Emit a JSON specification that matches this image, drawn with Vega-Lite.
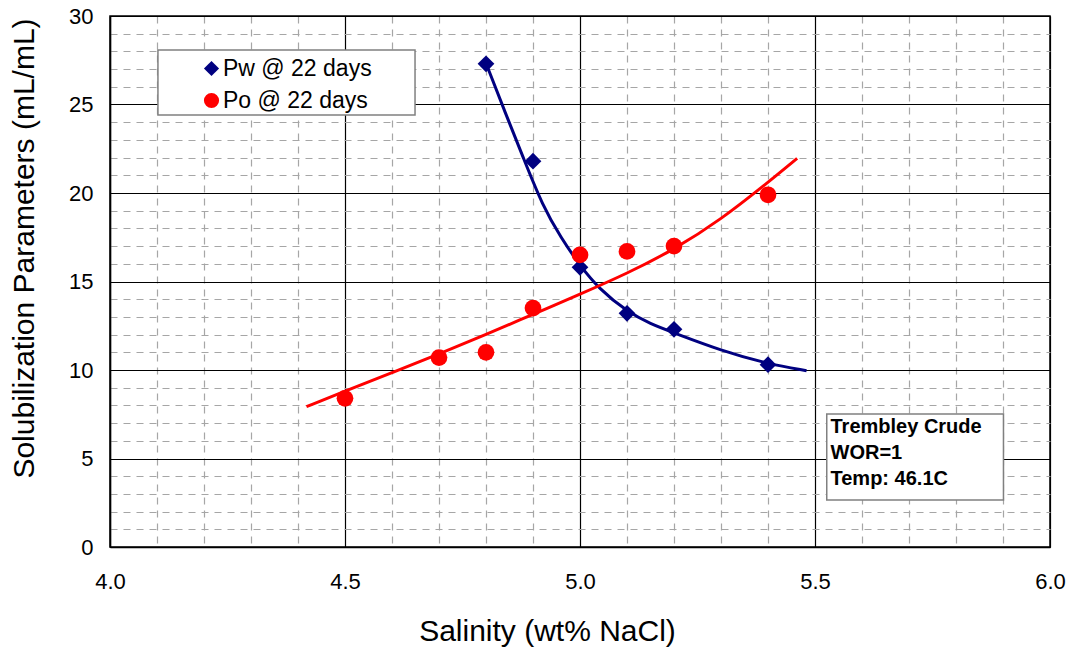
{
  "$schema": "https://vega.github.io/schema/vega-lite/v6.json",
  "autosize": {"type": "none"},
  "width": 940,
  "height": 531,
  "padding": {"left": 110, "top": 16, "right": 21, "bottom": 106},
  "background": "white",
  "config": {
    "font": "Liberation Sans",
    "view": {"stroke": "#000000", "strokeWidth": 1.5},
    "axis": {
      "domainColor": "#000000",
      "domainWidth": 1.5,
      "ticks": false,
      "labelColor": "#000000",
      "titleColor": "#000000",
      "labelFont": "Liberation Sans",
      "titleFont": "Liberation Sans",
      "titleFontWeight": "normal",
      "labelFlush": false,
      "gridOpacity": 1
    }
  },
  "datasets": {
    "points": [
      {"series": "Pw @ 22 days", "salinity": 4.8, "value": 27.3},
      {"series": "Pw @ 22 days", "salinity": 4.9, "value": 21.8},
      {"series": "Pw @ 22 days", "salinity": 5.0, "value": 15.8},
      {"series": "Pw @ 22 days", "salinity": 5.1, "value": 13.2},
      {"series": "Pw @ 22 days", "salinity": 5.2, "value": 12.3},
      {"series": "Pw @ 22 days", "salinity": 5.4, "value": 10.3},
      {"series": "Po @ 22 days", "salinity": 4.5, "value": 8.4},
      {"series": "Po @ 22 days", "salinity": 4.7, "value": 10.7},
      {"series": "Po @ 22 days", "salinity": 4.8, "value": 11.0},
      {"series": "Po @ 22 days", "salinity": 4.9, "value": 13.5},
      {"series": "Po @ 22 days", "salinity": 5.0, "value": 16.5},
      {"series": "Po @ 22 days", "salinity": 5.1, "value": 16.7},
      {"series": "Po @ 22 days", "salinity": 5.2, "value": 17.0},
      {"series": "Po @ 22 days", "salinity": 5.4, "value": 19.9}
    ],
    "fit": [
      {"series": "Pw", "salinity": 4.8, "value": 27.33},
      {"series": "Pw", "salinity": 4.84, "value": 24.6},
      {"series": "Pw", "salinity": 4.88, "value": 21.95},
      {"series": "Pw", "salinity": 4.92, "value": 19.3},
      {"series": "Pw", "salinity": 4.96, "value": 17.45},
      {"series": "Pw", "salinity": 5.0, "value": 15.9},
      {"series": "Pw", "salinity": 5.04, "value": 14.6},
      {"series": "Pw", "salinity": 5.1, "value": 13.3},
      {"series": "Pw", "salinity": 5.15, "value": 12.6},
      {"series": "Pw", "salinity": 5.2, "value": 12.1},
      {"series": "Pw", "salinity": 5.3, "value": 11.1},
      {"series": "Pw", "salinity": 5.4, "value": 10.34},
      {"series": "Pw", "salinity": 5.482, "value": 9.96},
      {"series": "Po", "salinity": 4.418, "value": 7.93},
      {"series": "Po", "salinity": 4.5, "value": 8.8},
      {"series": "Po", "salinity": 4.6, "value": 9.85},
      {"series": "Po", "salinity": 4.7, "value": 10.9},
      {"series": "Po", "salinity": 4.8, "value": 12.0},
      {"series": "Po", "salinity": 4.9, "value": 13.15},
      {"series": "Po", "salinity": 5.0, "value": 14.28},
      {"series": "Po", "salinity": 5.1, "value": 15.45},
      {"series": "Po", "salinity": 5.2, "value": 16.8},
      {"series": "Po", "salinity": 5.3, "value": 18.5},
      {"series": "Po", "salinity": 5.4, "value": 20.6},
      {"series": "Po", "salinity": 5.462, "value": 21.96}
    ]
  },
  "encoding": {
    "x": {
      "type": "quantitative",
      "scale": {"domain": [4, 6], "nice": false, "zero": false},
      "axis": {
        "title": "Salinity (wt% NaCl)",
        "values": [4.0, 4.1, 4.2, 4.3, 4.4, 4.5, 4.6, 4.7, 4.8, 4.9, 5.0, 5.1, 5.2, 5.3, 5.4, 5.5, 5.6, 5.7, 5.8, 5.9, 6.0],
        "labelExpr": "round(datum.value*10)%5===0 ? format(datum.value,'.1f') : ''",
        "labelFontSize": 22,
        "labelPadding": 24,
        "labelOverlap": false,
        "titleFontSize": 30,
        "titleBaseline": "middle",
        "titleX": 437,
        "titleY": 84,
        "grid": true,
        "gridColor": {"condition": {"test": "round(datum.value*10)%5===0", "value": "#000000"}, "value": "#a6a6a6"},
        "gridDash": {"condition": {"test": "round(datum.value*10)%5===0", "value": []}, "value": [7, 6]},
        "gridWidth": 1.2
      }
    },
    "y": {
      "type": "quantitative",
      "scale": {"domain": [0, 30], "nice": false, "zero": true},
      "axis": {
        "title": "Solubilization Parameters (mL/mL)",
        "values": [0, 1, 2, 3, 4, 5, 6, 7, 8, 9, 10, 11, 12, 13, 14, 15, 16, 17, 18, 19, 20, 21, 22, 23, 24, 25, 26, 27, 28, 29, 30],
        "labelExpr": "datum.value%5===0 ? datum.label : ''",
        "labelFontSize": 22,
        "labelPadding": 17,
        "labelOverlap": false,
        "titleFontSize": 30,
        "titleBaseline": "middle",
        "titleX": -86,
        "titleY": 232,
        "grid": true,
        "gridColor": {"condition": {"test": "datum.value%5===0", "value": "#000000"}, "value": "#a6a6a6"},
        "gridDash": {"condition": {"test": "datum.value%5===0", "value": []}, "value": [7, 6]},
        "gridWidth": 1.2
      }
    }
  },
  "layer": [
    {
      "data": {"values": [{"box": "legend"}]},
      "mark": {"type": "rect", "fill": "white", "stroke": "#808080", "strokeWidth": 1.5},
      "encoding": {
        "x": {"datum": 4.102},
        "x2": {"datum": 4.649},
        "y": {"datum": 28.08},
        "y2": {"datum": 24.41}
      }
    },
    {
      "data": {"values": [{"box": "note"}]},
      "mark": {"type": "rect", "fill": "white", "stroke": "#808080", "strokeWidth": 1.5},
      "encoding": {
        "x": {"datum": 5.525},
        "x2": {"datum": 5.901},
        "y": {"datum": 7.51},
        "y2": {"datum": 2.66}
      }
    },
    {
      "data": {"name": "fit"},
      "transform": [{"filter": "datum.series === 'Pw'"}],
      "mark": {"type": "line", "color": "#000080", "strokeWidth": 3, "interpolate": "basis"},
      "encoding": {
        "x": {"field": "salinity", "type": "quantitative"},
        "y": {"field": "value", "type": "quantitative"}
      }
    },
    {
      "data": {"name": "fit"},
      "transform": [{"filter": "datum.series === 'Po'"}],
      "mark": {"type": "line", "color": "#ff0000", "strokeWidth": 3, "interpolate": "basis"},
      "encoding": {
        "x": {"field": "salinity", "type": "quantitative"},
        "y": {"field": "value", "type": "quantitative"}
      }
    },
    {
      "data": {"name": "points"},
      "mark": {"type": "point", "filled": true, "opacity": 1, "size": 280},
      "encoding": {
        "x": {"field": "salinity", "type": "quantitative"},
        "y": {"field": "value", "type": "quantitative"},
        "color": {
          "field": "series",
          "type": "nominal",
          "scale": {"domain": ["Pw @ 22 days", "Po @ 22 days"], "range": ["#000080", "#ff0000"]},
          "legend": {
            "title": null,
            "orient": "none",
            "legendX": 90,
            "legendY": 41,
            "padding": 0,
            "labelFontSize": 23,
            "labelColor": "#000000",
            "labelFont": "Liberation Sans",
            "labelOffset": 0,
            "symbolSize": 230,
            "rowPadding": 8,
            "symbolStrokeWidth": 0
          }
        },
        "shape": {
          "field": "series",
          "type": "nominal",
          "scale": {"domain": ["Pw @ 22 days", "Po @ 22 days"], "range": ["diamond", "circle"]}
        }
      }
    },
    {
      "data": {"values": [{"note": "Trembley Crude"}]},
      "mark": {"type": "text", "align": "left", "baseline": "middle", "font": "Liberation Sans", "fontWeight": "bold", "fontSize": 20, "lineHeight": 26, "color": "#000000"},
      "encoding": {
        "x": {"datum": 5.533},
        "y": {"datum": 6.8},
        "text": {"value": ["Trembley Crude", "WOR=1", "Temp: 46.1C"]}
      }
    }
  ]
}
